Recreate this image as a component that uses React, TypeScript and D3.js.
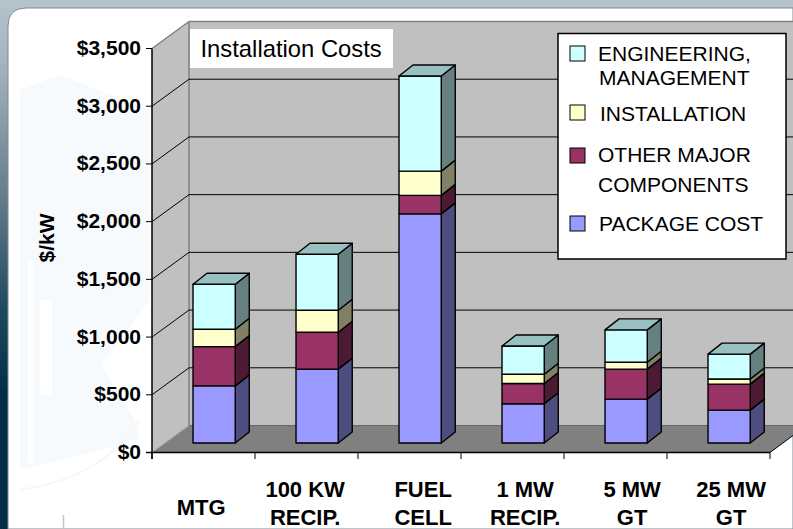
import React from "react";
import * as d3 from "d3";

const categories = ["MTG", "100 KW|RECIP.", "FUEL|CELL", "1 MW|RECIP.", "5 MW|GT", "25 MW|GT"];
const packageCost = [495, 640, 1985, 340, 380, 285];
const otherMajor = [340, 320, 160, 175, 260, 225];
const installation = [150, 190, 210, 80, 60, 45];
const engineering = [390, 485, 825, 245, 280, 215];
const yTicks = [0, 500, 1000, 1500, 2000, 2500, 3000, 3500];
const seriesKeys = ["package", "other", "install", "eng"];
const seriesFront = ["#9999ff", "#993366", "#ffffcc", "#ccffff"];
const seriesSide = ["#4d4d80", "#4d1a33", "#808066", "#668080"];
const topColor = "#99c0c0";
const labelNudge = [-13, -12, 3, 2, 6, 2];

const legendRows = [
  { swatch: "#ccffff", lines: [{ t: "ENGINEERING,", x: 598, y: 61 }, { t: "MANAGEMENT", x: 599, y: 85 }], sy: 46 },
  { swatch: "#ffffcc", lines: [{ t: "INSTALLATION", x: 600, y: 121 }], sy: 105 },
  { swatch: "#993366", lines: [{ t: "OTHER MAJOR", x: 598, y: 162 }, { t: "COMPONENTS", x: 598, y: 192 }], sy: 148 },
  { swatch: "#9999ff", lines: [{ t: "PACKAGE COST", x: 599, y: 231 }], sy: 216 },
];

const W = 793, H = 529;
const axisX = 152, axisRight = 770;
const depthX = 37, depthY = 27;
const barDX = 14, barDY = 11;
const barLift = 9.5;
const FONT = "'Liberation Sans', Arial, sans-serif";

export default function App() {
  const y = d3.scaleLinear().domain([0, 3500]).range([452.5, 48.5]);
  const x = d3.scaleBand<number>().domain(categories.map((_, i) => i)).range([axisX, axisRight]).paddingInner(0.59).paddingOuter(0.295).align(0.675);
  const rows = categories.map((c, i) => ({ package: packageCost[i], other: otherMajor[i], install: installation[i], eng: engineering[i] }));
  const stacked = d3.stack<any>().keys(seriesKeys)(rows);
  const floor = y(0);
  const backFloor = floor - depthY;
  const topBack = y(3500) - depthY;
  const tickXs = d3.range(0, categories.length + 1).map((i) => axisX + ((axisRight - axisX) / categories.length) * i);

  return (
    <svg width={W} height={H} viewBox={`0 0 ${W} ${H}`} style={{ position: "absolute", left: 0, top: 0, display: "block" }} fontFamily={FONT}>
      <defs>
        <linearGradient id="band" x1="0" y1="0" x2="0" y2="1">
          <stop offset="0" stopColor="#b4c2cc" />
          <stop offset="0.12" stopColor="#a4b4bf" />
          <stop offset="0.35" stopColor="#6b818f" />
          <stop offset="0.58" stopColor="#1f4a60" />
          <stop offset="0.75" stopColor="#032d44" />
          <stop offset="1" stopColor="#032d44" />
        </linearGradient>
      </defs>
      <rect width={W} height={H} fill="url(#band)" />
      <rect width={W} height={8} fill="#b4c2cc" />
      <path d={`M8 ${H} V26 Q8 8 26 8 H${W} V${H} Z`} fill="#ffffff" stroke="#7f8a90" strokeWidth={1} />
      <g fill="#f7fafd">
        <path d="M20 90 L60 75 L150 110 L150 300 L20 470 Z" />
        <path d="M20 470 L140 440 L135 420 L60 300 L20 300 Z" />
      </g>
      <path d="M28 260 V463 H34 V260 Z M40 300 V395 H52 V300 Z" fill="#ffffff" />
      <path d="M18 490 Q100 480 140 420" fill="none" stroke="#f5f6f8" strokeWidth={2} />
      <line x1={63.5} x2={63.5} y1={515} y2={529} stroke="#c4c4c4" strokeWidth={1.5} />

      <polygon points={`${axisX},${floor} ${axisX},${y(3500)} ${axisX + depthX},${topBack} ${axisX + depthX},${backFloor}`} fill="#c0c0c0" />
      <rect x={axisX + depthX} y={topBack} width={W - axisX - depthX} height={backFloor - topBack} fill="#c0c0c0" />
      <polygon points={`${axisX},${floor} ${axisRight},${floor} ${axisRight + depthX},${backFloor} ${axisX + depthX},${backFloor}`} fill="#808080" />
      <line x1={axisX + depthX} x2={W} y1={topBack} y2={topBack} stroke="#808080" strokeWidth={1.5} />
      <line x1={axisX + depthX} x2={axisX + depthX} y1={topBack} y2={backFloor} stroke="#808080" strokeWidth={1.5} />
      <line x1={axisX} x2={axisX + depthX} y1={y(3500)} y2={topBack} stroke="#808080" strokeWidth={1.5} />
      <line x1={axisX} x2={axisX + depthX} y1={floor} y2={backFloor} stroke="#a0a0a0" strokeWidth={1} />
      <line x1={axisX + depthX} x2={W} y1={backFloor} y2={backFloor} stroke="#666666" strokeWidth={1} />

      {yTicks.filter((t) => t > 0 && t < 3500).map((t) => (
        <g key={t} stroke="#000" strokeWidth={1}>
          <line x1={axisX} x2={axisX + depthX} y1={y(t)} y2={y(t) - depthY} />
          <line x1={axisX + depthX} x2={W} y1={y(t) - depthY} y2={y(t) - depthY} />
        </g>
      ))}

      {categories.map((_, i) => {
        const bx = x(i)!;
        const bw = x.bandwidth();
        return (
          <g key={i} stroke="#000" strokeWidth={1.4} strokeLinejoin="round">
            {stacked.map((s, k) => {
              const y0 = y(s[i][0]) - barLift;
              const y1 = y(s[i][1]) - barLift;
              return (
                <g key={k}>
                  <polygon points={`${bx + bw},${y0} ${bx + bw + barDX},${y0 - barDY} ${bx + bw + barDX},${y1 - barDY} ${bx + bw},${y1}`} fill={seriesSide[k]} />
                  <rect x={bx} y={y1} width={bw} height={y0 - y1} fill={seriesFront[k]} />
                  {k === stacked.length - 1 && (
                    <polygon points={`${bx},${y1} ${bx + barDX},${y1 - barDY} ${bx + bw + barDX},${y1 - barDY} ${bx + bw},${y1}`} fill={topColor} />
                  )}
                </g>
              );
            })}
          </g>
        );
      })}

      <line x1={axisX} x2={axisX} y1={y(3500)} y2={459} stroke="#000" strokeWidth={1.5} />
      <line x1={axisX - 6} x2={axisRight} y1={floor} y2={floor} stroke="#000" strokeWidth={1.7} />
      <line x1={axisRight} x2={W} y1={floor} y2={floor - 17} stroke="#000" strokeWidth={1} />
      {tickXs.map((tx) => (
        <line key={tx} x1={tx} x2={tx} y1={floor} y2={459} stroke="#000" strokeWidth={1} />
      ))}
      {yTicks.map((t) => (
        <g key={t}>
          <line x1={axisX - 6} x2={axisX} y1={y(t)} y2={y(t)} stroke="#000" strokeWidth={1} />
          <text x={141} y={y(t) + 6.5} textAnchor="end" fontSize={21} fontWeight={700} fill="#000">
            {d3.format("$,")(t)}
          </text>
        </g>
      ))}

      <text transform="translate(54,238) rotate(-90)" textAnchor="middle" fontSize={21} fontWeight={700} fill="#000">$/kW</text>

      {categories.map((c, i) => {
        const parts = c.split("|");
        const cx = x(i)! + x.bandwidth() / 2 + labelNudge[i];
        return (
          <text key={c} textAnchor="middle" fontSize={22} fontWeight={700} fill="#000">
            {parts.length === 1 ? (
              <tspan x={cx} y={515}>{parts[0]}</tspan>
            ) : (
              <>
                <tspan x={cx} y={497}>{parts[0]}</tspan>
                <tspan x={cx} y={525}>{parts[1]}</tspan>
              </>
            )}
          </text>
        );
      })}

      <rect x={190} y={29} width={203} height={39} fill="#ffffff" />
      <text x={200.5} y={57} fontSize={23.8} fill="#000">Installation Costs</text>

      <rect x={558} y={33.5} width={228} height={225.5} fill="#ffffff" stroke="#000" strokeWidth={1.5} />
      {legendRows.map((r) => (
        <g key={r.swatch}>
          <rect x={570} y={r.sy} width={15} height={15} fill={r.swatch} stroke="#000" strokeWidth={1} />
          {r.lines.map((l) => (
            <text key={l.t} x={l.x} y={l.y} fontSize={21} fill="#000">{l.t}</text>
          ))}
        </g>
      ))}
    </svg>
  );
}
